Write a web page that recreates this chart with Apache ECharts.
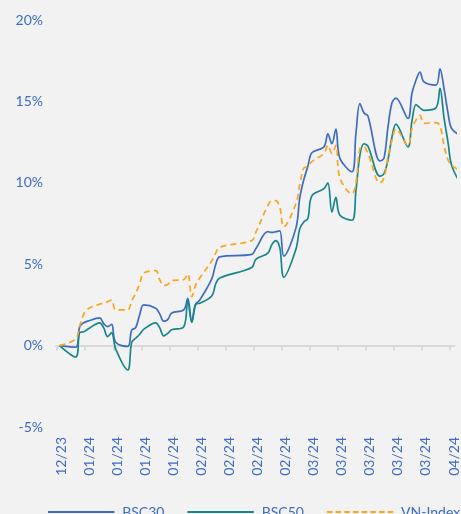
<!DOCTYPE html>
<html><head><meta charset="utf-8">
<script src="https://cdn.jsdelivr.net/npm/echarts@6/dist/echarts.min.js"></script>
<style>html,body{margin:0;padding:0;background:#f2f2f2}#c{width:461px;height:514px}</style>
</head><body><div id="c"></div>
<script>
const dates = [
 '2023-12-29',
 '2024-01-02','2024-01-03','2024-01-04','2024-01-05',
 '2024-01-08','2024-01-09','2024-01-10','2024-01-11','2024-01-12',
 '2024-01-15','2024-01-16','2024-01-17','2024-01-18','2024-01-19',
 '2024-01-22','2024-01-23','2024-01-24','2024-01-25','2024-01-26',
 '2024-01-29','2024-01-30','2024-01-31','2024-02-01','2024-02-02',
 '2024-02-05','2024-02-06','2024-02-07',
 '2024-02-15','2024-02-16',
 '2024-02-19','2024-02-20','2024-02-21','2024-02-22','2024-02-23',
 '2024-02-26','2024-02-27','2024-02-28','2024-02-29','2024-03-01',
 '2024-03-04','2024-03-05','2024-03-06','2024-03-07','2024-03-08',
 '2024-03-11','2024-03-12','2024-03-13','2024-03-14','2024-03-15',
 '2024-03-18','2024-03-19','2024-03-20','2024-03-21','2024-03-22',
 '2024-03-25','2024-03-26','2024-03-27','2024-03-28','2024-03-29',
 '2024-04-01','2024-04-02','2024-04-03','2024-04-04','2024-04-05',
 '2024-04-08'
];
const tickLabels = ['12/23','01/24','01/24','01/24','01/24','02/24','02/24','02/24','02/24','03/24','03/24','03/24','03/24','03/24','04/24'];
const bsc30 = [
 0,
 -0.1,1.15,1.4,1.5,
 1.7,1.35,1.17,1.3,0.2,
 -0.05,0.95,1.1,1.9,2.5,
 2.3,1.95,1.5,1.6,2.0,
 2.2,2.9,1.45,2.55,2.8,
 4.1,5.0,5.45,
 5.6,5.95,
 7.0,6.95,7.0,7.05,5.5,
 7.2,9.1,10.2,11.0,11.85,
 12.2,13.0,12.4,13.3,11.5,
 10.67,13.0,14.87,14.3,14.1,
 11.35,11.5,13.4,14.9,15.2,
 13.95,15.5,16.3,16.8,16.2,
 16.0,17.0,15.8,14.3,13.3,
 12.8
];
const bsc50 = [
 0,
 -0.7,0.8,0.85,1.0,
 1.4,1.1,0.55,0.8,-0.2,
 -1.5,0.2,0.45,0.7,1.0,
 1.4,1.1,0.6,0.75,0.97,
 1.15,2.8,1.43,2.56,2.6,
 3.05,3.8,4.15,
 4.8,5.3,
 5.68,6.2,6.45,6.0,4.2,
 5.9,7.2,7.6,7.8,9.2,
 9.64,10.0,8.2,9.1,8.0,
 7.7,9.5,11.7,12.4,12.25,
 10.4,10.55,11.4,12.8,13.6,
 12.2,13.8,14.8,14.6,14.45,
 14.6,15.8,14.0,12.5,11.0,
 9.6
];
const vnIndex = [
 0,
 0.4,1.2,1.9,2.25,
 2.55,2.6,2.7,2.8,2.2,
 2.2,2.75,3.2,3.8,4.45,
 4.6,4.05,3.7,3.75,4.0,
 4.05,4.4,3.0,3.75,4.15,
 5.2,5.7,6.05,
 6.45,6.95,
 8.6,8.9,8.9,8.5,7.3,
 8.7,9.9,10.9,11.0,11.3,
 11.8,12.3,11.8,12.3,10.3,
 9.33,9.95,12.1,12.2,11.8,
 10.0,10.3,11.6,12.6,13.3,
 12.3,13.35,13.85,14.15,13.65,
 13.7,13.5,12.3,11.4,11.05,
 10.6
];
const seriesNames = ['BSC30','BSC50','VN-Index'];

const DAY = 86400000;
const t0 = Date.UTC(2023, 11, 29);
const dayOf = s => Math.round((Date.parse(s + 'T00:00:00Z') - t0) / DAY);
const xs = dates.map(dayOf);
const pairs = arr => arr.map((v, i) => [xs[i], v]);
const labelPos = tickLabels.map((_, k) => 7 * k + 0.5);
const tickPos = tickLabels.map((_, k) => 7 * k - 0.6);

const blue = '#3e6cbf', teal = '#17868a', orange = '#f9a51e';
const txt = '#3e6cbf';
const font = 'Lato, "Liberation Sans", sans-serif';

// legend icons: solid bar and dashed bar
let dashPath = 'path://';
for (let k = 0; k < 8; k++) dashPath += 'M' + (k * 8.7) + ',0h5.5v2h-5.5z';
const solidPath = 'path://M0,0h66.4v2h-66.4z';

const chart = echarts.init(document.getElementById('c'), null, {renderer: 'canvas'});
chart.setOption({
  backgroundColor: '#f2f2f2',
  animation: false,
  textStyle: {fontFamily: font},
  grid: {left: 56, right: 0, top: 20, bottom: 87, containLabel: false},
  legend: {
    left: 43, top: 500, width: 800, itemWidth: 68, itemHeight: 2, itemGap: 23,
    textStyle: {color: txt, fontSize: 14, fontFamily: font, padding: [0, 0, 0, 2]},
    data: [
      {name: seriesNames[0], icon: solidPath, itemStyle: {color: blue}},
      {name: seriesNames[1], icon: solidPath, itemStyle: {color: teal}},
      {name: seriesNames[2], icon: dashPath, itemStyle: {color: orange}}
    ]
  },
  xAxis: [{
    type: 'value', min: -0.9, max: 98.6, position: 'bottom',
    axisLine: {show: false, onZero: false},
    axisTick: {show: false},
    splitLine: {show: false},
    axisLabel: {
      customValues: labelPos, rotate: 90, margin: 10,
      color: txt, fontSize: 14, fontFamily: font,
      formatter: v => tickLabels[Math.round((v - 0.5) / 7)]
    }
  }, {
    type: 'value', min: -0.9, max: 98.6, position: 'top',
    axisLine: {show: true, onZero: true, lineStyle: {color: '#d9d9d9', width: 2}},
    axisTick: {show: true, customValues: tickPos, inside: true, length: 5, lineStyle: {color: '#d9d9d9', width: 2}},
    axisLabel: {show: false},
    splitLine: {show: false}
  }],
  yAxis: {
    type: 'value', min: -5, max: 20, interval: 5,
    axisLine: {show: false, onZero: false},
    axisTick: {show: false},
    splitLine: {show: false},
    axisLabel: {formatter: '{value}%', color: txt, fontSize: 14, margin: 13, fontFamily: font}
  },
  series: [
    {name: seriesNames[0], type: 'line', xAxisIndex: 0, data: pairs(bsc30), symbol: 'none', smooth: 0.35,
     itemStyle: {color: blue}, lineStyle: {color: blue, width: 1.7}},
    {name: seriesNames[1], type: 'line', xAxisIndex: 0, data: pairs(bsc50), symbol: 'none', smooth: 0.35,
     itemStyle: {color: teal}, lineStyle: {color: teal, width: 1.7}},
    {name: seriesNames[2], type: 'line', xAxisIndex: 0, data: pairs(vnIndex), symbol: 'none', smooth: 0.35,
     itemStyle: {color: orange}, lineStyle: {color: orange, width: 1.7, type: [6, 4]}}
  ]
});
</script></body></html>
